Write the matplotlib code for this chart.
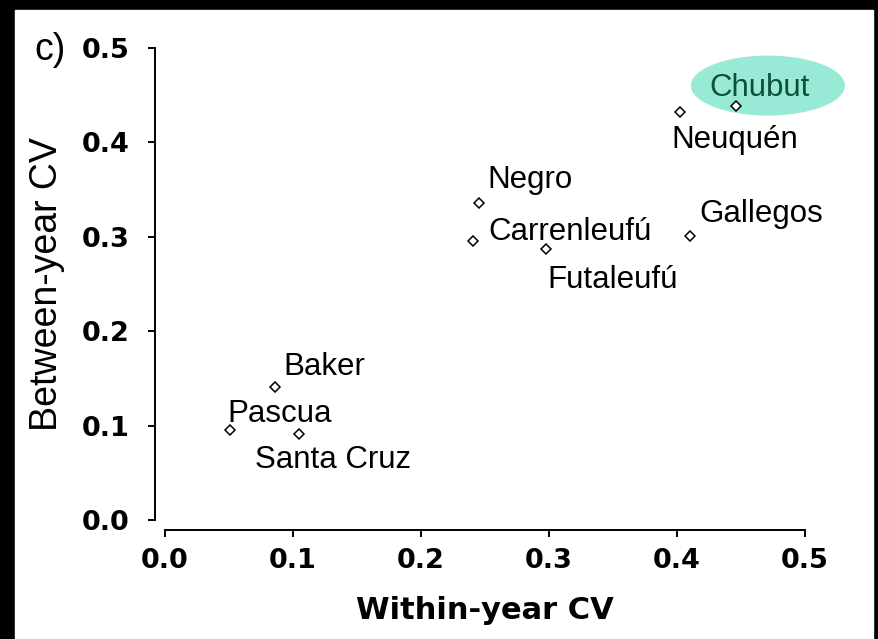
'''
Between-year vs within-year CV of river flows, panel c.
Writes out.png in the current dir.
'''

import matplotlib.pyplot as plt
from matplotlib.patches import Ellipse, Rectangle

# data
RIVERS = ['Pascua', 'Baker', 'Santa Cruz', 'Negro', 'Carrenleufú',
          'Futaleufú', 'Gallegos', 'Neuquén', 'Chubut']
WITHIN_CV = [0.051, 0.086, 0.105, 0.245, 0.241, 0.298, 0.410, 0.402, 0.446]
BETWEEN_CV = [0.095, 0.141, 0.091, 0.336, 0.296, 0.287, 0.301, 0.432, 0.439]
TICKS = [0.0, 0.1, 0.2, 0.3, 0.4, 0.5]

# label placement, pixels from the point to the left end of the baseline
LABEL_OFFSETS = [(-3, 8), (8, 12), (-44, -34), (9, 15), (15, 1),
                 (1, -39), (10, 14), (-8, -36), (-27, 10)]

HIGHLIGHT = 'Chubut'
HIGHLIGHT_FILL = '#98e9d5'
HIGHLIGHT_TEXT = '#0f4f3b'

W, H = 879, 639
DPI = 100

LABEL_FONT = ['Liberation Sans', 'DejaVu Sans']
TICK_FONT = ['DejaVu Sans']


def fx(px):
    return px / W


def fy(py):
    return 1 - py / H


def main():
    fig = plt.figure(figsize=(W / DPI, H / DPI), dpi=DPI)
    fig.patch.set_facecolor('black')
    # white page inside the black frame
    fig.add_artist(Rectangle((fx(15), 0), fx(873) - fx(15), fy(10),
                             transform=fig.transFigure, color='white',
                             zorder=0))

    ax = fig.add_axes([fx(165), fy(520), fx(805) - fx(165), fy(48) - fy(520)])
    ax.set_facecolor('none')
    ax.set_xlim(0, 0.5)
    ax.set_ylim(0, 0.5)

    # R-like detached axes
    for side in ['top', 'right']:
        ax.spines[side].set_visible(False)
    for side in ['left', 'bottom']:
        ax.spines[side].set_position(('outward', 7.2))
        ax.spines[side].set_linewidth(1.4)
    ax.spines['left'].set_bounds(0, 0.5)
    ax.spines['bottom'].set_bounds(0, 0.5)

    ax.set_xticks(TICKS)
    ax.set_yticks(TICKS)
    ax.set_xticklabels(['%.1f' % t for t in TICKS])
    ax.set_yticklabels(['%.1f' % t for t in TICKS])
    ax.tick_params(direction='out', length=5, width=1.4, labelsize=19.5)
    ax.tick_params(axis='y', pad=13)
    ax.tick_params(axis='x', pad=8)
    for lab in ax.get_xticklabels() + ax.get_yticklabels():
        lab.set_family(TICK_FONT)
        lab.set_fontweight('bold')

    ax.plot(WITHIN_CV, BETWEEN_CV, linestyle='none', marker='D',
            markersize=4.8, markerfacecolor='white', markeredgecolor='black',
            markeredgewidth=1.1, zorder=3, clip_on=False)

    for name, x, y, off in zip(RIVERS, WITHIN_CV, BETWEEN_CV, LABEL_OFFSETS):
        color = 'black'
        if name == HIGHLIGHT:
            color = HIGHLIGHT_TEXT
            # ellipse around the label, sized in pixels
            trans = ax.transData.inverted()
            cx, cy = ax.transData.transform((x, y))
            x0, y0 = trans.transform((cx + 32 - 77, cy + 20 - 30))
            x1, y1 = trans.transform((cx + 32 + 77, cy + 20 + 30))
            ax.add_patch(Ellipse(((x0 + x1) / 2, (y0 + y1) / 2),
                                 x1 - x0, y1 - y0, facecolor=HIGHLIGHT_FILL,
                                 edgecolor='none', zorder=1, clip_on=False))
        ax.annotate(name, (x, y), xytext=off, textcoords='offset pixels',
                    ha='left', va='baseline', fontsize=22.5,
                    family=LABEL_FONT, color=color, zorder=4)

    ax.set_xlabel('Within-year CV', fontsize=22, fontweight='bold',
                  family=TICK_FONT, labelpad=16)
    ax.set_ylabel('Between-year CV', fontsize=27, family=LABEL_FONT,
                  labelpad=12)
    fig.text(fx(34), fy(60), 'c)', fontsize=27, family=LABEL_FONT,
             ha='left', va='baseline')

    plt.savefig('out.png', dpi=DPI, facecolor=fig.get_facecolor())
    plt.close()


if __name__ == '__main__':
    main()
